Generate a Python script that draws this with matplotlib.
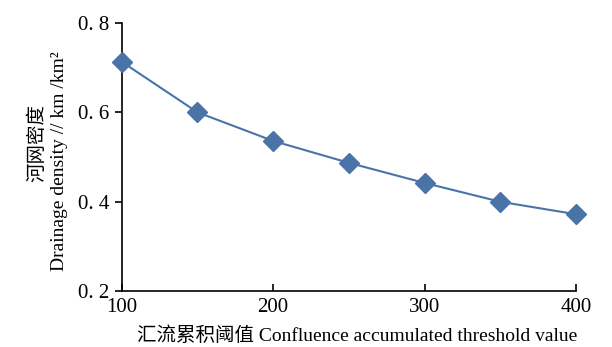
import matplotlib
matplotlib.use('Agg')
import matplotlib.pyplot as plt

# data
threshold = [100, 150, 200, 250, 300, 350, 400]
density = [0.713, 0.600, 0.536, 0.487, 0.442, 0.400, 0.372]
x_ticks = [100, 200, 300, 400]
y_ticks = [0.2, 0.4, 0.6, 0.8]

plt.rcParams['font.family'] = ['Liberation Serif', 'Noto Sans CJK SC']

color = '#4a74a8'

fig = plt.figure(figsize=(6.12, 3.47), dpi=100)
ax = fig.add_axes([0.199, 0.161, 0.742, 0.773])
ax.plot(threshold, density, color=color, lw=1.5, marker='D', markersize=10,
        markeredgecolor=color, clip_on=False, zorder=3)

ax.set_xlim(100, 400)
ax.set_ylim(0.2, 0.8)
ax.set_xticks(x_ticks)
ax.set_yticks(y_ticks)
ax.set_xticklabels([str(v) for v in x_ticks])
ax.set_yticklabels(['0. 2', '0. 4', '0. 6', '0. 8'])
ax.spines['top'].set_visible(False)
ax.spines['right'].set_visible(False)
ax.spines['left'].set_linewidth(1.2)
ax.spines['bottom'].set_linewidth(1.2)
ax.tick_params(axis='x', direction='in', length=5, width=1.2, labelsize=15, pad=5)
ax.tick_params(axis='y', direction='out', length=5, width=1.2, labelsize=15, pad=4)

fig.text(37 / 612, 1 - 143 / 347, '河网密度', rotation=90, ha='center', va='center', fontsize=14)
fig.text(60 / 612, 1 - 161 / 347, 'Drainage density // km /km²', rotation=90,
         ha='center', va='center', fontsize=14)
fig.text(357 / 612, 1 - 336 / 347, '汇流累积阈值 Confluence accumulated threshold value',
         ha='center', va='center', fontsize=14)

fig.savefig('out.png', dpi=100)
